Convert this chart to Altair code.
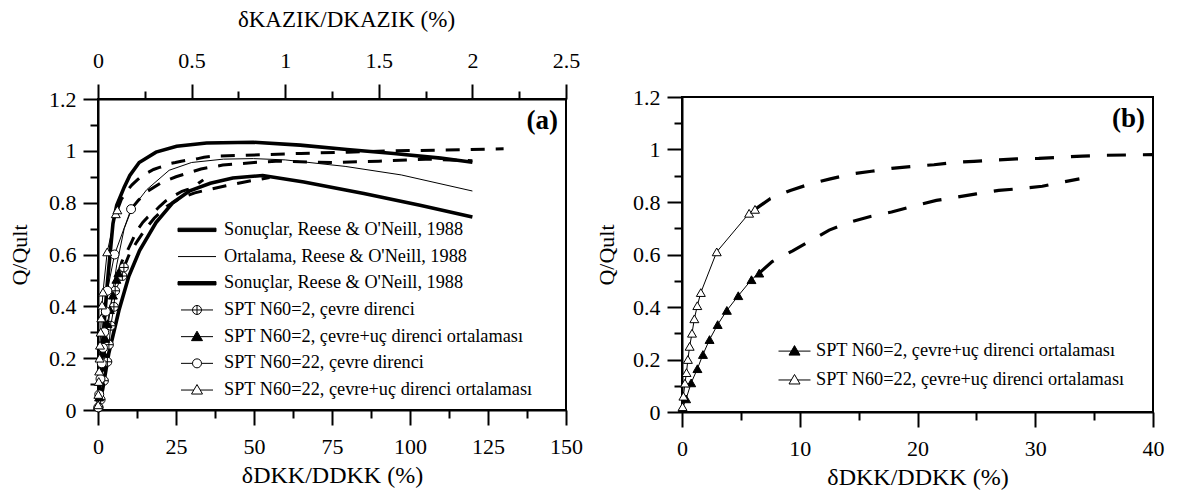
import altair as alt
import pandas as pd

FONT = "Liberation Serif, Times New Roman, serif"

# ---------------- legend texts / series names ----------------
R_UPPER = "Sonuçlar, Reese & O'Neill, 1988"
R_MEAN = "Ortalama, Reese & O'Neill, 1988"
R_LOWER = "Sonuçlar, Reese & O'Neill, 1988 "   # same text, second legend entry
N2_SIDE = "SPT N60=2, çevre direnci"
N2_AVG = "SPT N60=2, çevre+uç direnci ortalaması"
N22_SIDE = "SPT N60=22, çevre direnci"
N22_AVG = "SPT N60=22, çevre+uç direnci ortalaması"

# ---------------- Reese & O'Neill (1988): x = δKAZIK/DKAZIK (%) ----------------
reese_upper_x = [0, 0.02, 0.05, 0.08, 0.10, 0.14, 0.17, 0.22, 0.31, 0.42, 0.58, 0.83, 1.08, 1.33, 1.58, 1.83, 2.0]
reese_upper_y = [0, 0.22, 0.49, 0.72, 0.79, 0.86, 0.905, 0.955, 0.995, 1.018, 1.03, 1.033, 1.022, 1.005, 0.99, 0.972, 0.956]
reese_mean_x = [0, 0.033, 0.067, 0.10, 0.14, 0.18, 0.26, 0.38, 0.50, 0.67, 0.83, 1.0, 1.32, 1.62, 2.0]
reese_mean_y = [0, 0.2, 0.4, 0.56, 0.70, 0.775, 0.85, 0.925, 0.955, 0.968, 0.97, 0.965, 0.94, 0.907, 0.845]
reese_lower_x = [0, 0.025, 0.058, 0.112, 0.165, 0.222, 0.31, 0.40, 0.49, 0.60, 0.72, 0.88, 1.10, 1.42, 1.72, 2.0]
reese_lower_y = [0, 0.08, 0.22, 0.385, 0.517, 0.615, 0.723, 0.80, 0.846, 0.875, 0.895, 0.905, 0.88, 0.835, 0.79, 0.745]

# ---------------- measured series: x = δDKK/DDKK (%) ----------------
n2_side_x = [0.2, 0.85, 1.9, 3.0, 3.5, 4.1, 5.1, 5.5, 7.8, 8.3]
n2_side_y = [0.01, 0.04, 0.113, 0.186, 0.252, 0.325, 0.398, 0.46, 0.517, 0.55]
n2_avg_x = [0.06, 0.35, 0.78, 1.31, 1.78, 2.34, 3.03, 3.81, 4.78, 5.9, 6.56]
n2_avg_y = [0.016, 0.05, 0.111, 0.165, 0.219, 0.276, 0.333, 0.387, 0.443, 0.504, 0.529]
n22_side_x = [0.1, 0.4, 0.8, 1.2, 1.6, 2.0, 2.5, 3.0, 5.3, 10.6]
n22_side_y = [0.01, 0.06, 0.12, 0.18, 0.24, 0.30, 0.38, 0.46, 0.60, 0.775]
n22_avg_x = [0.05, 0.12, 0.25, 0.38, 0.5, 0.65, 0.85, 1.05, 1.3, 1.6, 2.95, 5.7, 6.2]
n22_avg_y = [0.02, 0.06, 0.11, 0.15, 0.20, 0.25, 0.30, 0.355, 0.405, 0.455, 0.61, 0.757, 0.772]

# dashed continuations
n2_side_ext_x = [8.3, 10, 12.5, 15, 18, 22, 26, 31, 36, 41, 47, 55]
n2_side_ext_y = [0.55, 0.60, 0.65, 0.695, 0.74, 0.785, 0.815, 0.838, 0.852, 0.865, 0.88, 0.897]
n2_avg_ext_x = [6.56, 7.66, 9.4, 10.9, 12.5, 14.4, 16.0, 17.8, 19.7, 21.6, 23.4, 25.0, 26.9, 29.0, 30.6, 32.2, 33.75]
n2_avg_ext_y = [0.529, 0.573, 0.614, 0.652, 0.693, 0.725, 0.745, 0.762, 0.785, 0.806, 0.819, 0.831, 0.844, 0.852, 0.86, 0.875, 0.888]
n22_side_ext_x = [10.6, 13, 16, 20, 25, 33, 40, 50, 57, 75, 90, 105, 120]
n22_side_ext_y = [0.775, 0.81, 0.845, 0.875, 0.90, 0.93, 0.945, 0.955, 0.96, 0.955, 0.96, 0.968, 0.962]
n22_avg_ext_x = [6.2, 7.5, 9.2, 10.9, 12.6, 14.4, 16.1, 17.8, 19.7, 21.4, 23.1, 24.8, 26.7, 28.4, 30.3,
                 32.0, 34.0, 36.0, 39.0, 45, 55, 65, 80, 95, 110, 130]
n22_avg_ext_y = [0.772, 0.813, 0.844, 0.869, 0.888, 0.907, 0.917, 0.928, 0.936, 0.942, 0.951, 0.955, 0.96,
                 0.964, 0.966, 0.97, 0.975, 0.978, 0.98, 0.982, 0.986, 0.99, 0.995, 1.0, 1.003, 1.008]

# axis tick values
x_a_vals = [0, 12.5, 25, 37.5, 50, 62.5, 75, 87.5, 100, 112.5, 125, 137.5, 150]
top_vals = [0, 0.25, 0.5, 0.75, 1.0, 1.25, 1.5, 1.75, 2.0, 2.25, 2.5]
x_b_vals = [0, 5, 10, 15, 20, 25, 30, 35, 40]
y_vals = [0, 0.1, 0.2, 0.3, 0.4, 0.5, 0.6, 0.7, 0.8, 0.9, 1.0, 1.1, 1.2]

W_A, W_B, H_A, H_B = 468, 471, 311, 315


def mk(xs, ys, name, xcol="x"):
    return pd.DataFrame({xcol: xs, "y": ys, "series": name, "order": list(range(len(xs)))})


reese_df = pd.concat([mk(reese_upper_x, reese_upper_y, R_UPPER, "xk"),
                      mk(reese_mean_x, reese_mean_y, R_MEAN, "xk"),
                      mk(reese_lower_x, reese_lower_y, R_LOWER, "xk")])
meas_a = pd.concat([mk(n2_side_x, n2_side_y, N2_SIDE), mk(n2_avg_x, n2_avg_y, N2_AVG),
                    mk(n22_side_x, n22_side_y, N22_SIDE), mk(n22_avg_x, n22_avg_y, N22_AVG)])
ext_a = pd.concat([mk(n2_side_ext_x, n2_side_ext_y, N2_SIDE), mk(n2_avg_ext_x, n2_avg_ext_y, N2_AVG),
                   mk(n22_side_ext_x, n22_side_ext_y, N22_SIDE), mk(n22_avg_ext_x, n22_avg_ext_y, N22_AVG)])
meas_b = pd.concat([mk(n2_avg_x, n2_avg_y, N2_AVG), mk(n22_avg_x, n22_avg_y, N22_AVG)])
ext_b = pd.concat([mk(n2_avg_ext_x, n2_avg_ext_y, N2_AVG), mk(n22_avg_ext_x, n22_avg_ext_y, N22_AVG)])


def axis(values, test, title, **kw):
    base = dict(values=values, format=".6~g", labelExpr=f"({test}) ? datum.label : ''",
                tickSize={"condition": {"test": test, "value": 15}, "value": 8},
                title=title, domainColor="black", domainWidth=2, tickColor="black", tickWidth=2,
                labelColor="black", labelFont=FONT, labelFontSize=22, labelFlush=False,
                labelOverlap=False, titleFont=FONT, titleFontSize=24, titleFontWeight="normal",
                titleColor="black", grid=False)
    base.update(kw)
    return alt.Axis(**base)


Y_TEST = "round(datum.value*10) % 2 == 0"
y_axis_a = axis(y_vals, Y_TEST, "Q/Qult", labelPadding=7, titlePadding=17, titleFontSize=22)
y_axis_b = axis(y_vals, Y_TEST, "Q/Qult", labelPadding=7, titlePadding=14, titleFontSize=22)
x_axis_a = axis(x_a_vals, "datum.value % 25 == 0", "δDKK/DDKK (%)", labelPadding=11, titlePadding=6)
top_axis = axis(top_vals, "round(datum.value*4) % 2 == 0", "δKAZIK/DKAZIK (%)", orient="top",
                labelPadding=12, titlePadding=18, titleFontSize=23, titleX=W_A / 2 + 14)
x_axis_b = axis(x_b_vals, "datum.value % 10 == 0", "δDKK/DDKK (%)", labelPadding=11, titlePadding=6)

y_scale = alt.Scale(domain=[0, 1.2], nice=False, zero=False)
xa_scale = alt.Scale(domain=[0, 150], nice=False, zero=False)
xb_scale = alt.Scale(domain=[0, 40], nice=False, zero=False)
top_scale = alt.Scale(domain=[0, 2.5], nice=False, zero=False)

# legend symbols: line + marker drawn as custom symbol paths
THICK = "M-1.9,-0.17H1.9V0.17H-1.9Z"
THIN = "M-1.9,0H1.9"
L_OPLUS = "M-1.6,0H1.6M-0.45,0A0.45,0.45,0,1,0,0.45,0A0.45,0.45,0,1,0,-0.45,0M0,-0.45V0.45"
L_TRI = "M-1.6,0H1.6M0,-0.55L0.55,0.4L-0.55,0.4Z"
L_CIRC = "M-1.6,0H-0.45M0.45,0H1.6M-0.45,0A0.45,0.45,0,1,0,0.45,0A0.45,0.45,0,1,0,-0.45,0"
L_OTRI = "M-1.6,0H-0.32M0.32,0H1.6M0,-0.55L0.55,0.4L-0.55,0.4Z"
# plot markers
OPLUS = "M-1,0A1,1,0,1,0,1,0A1,1,0,1,0,-1,0M-1,0H1M0,-1V1"

dom_a = [R_UPPER, R_MEAN, R_LOWER, N2_SIDE, N2_AVG, N22_SIDE, N22_AVG]
fill_a = ["black", "white", "black", "white", "black", "white", "white"]
lpath_a = [THICK, THIN, THICK, L_OPLUS, L_TRI, L_CIRC, L_OTRI]
dom_b = [N2_AVG, N22_AVG]
fill_b = ["black", "white"]
lpath_b = [L_TRI, L_OTRI]

marker_style = {N2_SIDE: (OPLUS, "white"), N2_AVG: ("triangle-up", "black"),
                N22_SIDE: ("circle", "white"), N22_AVG: ("triangle-up", "white")}


def legend(lx, first_y, last_y, n, off, h):
    c1 = (1.2 - first_y) / 1.2 * h
    step = (first_y - last_y) / 1.2 * h / max(n - 1, 1)
    return alt.Legend(title=None, orient="none", legendX=lx, legendY=c1 - 10.5, padding=0,
                      labelFont=FONT, labelFontSize=18.3, labelColor="black", labelLimit=1000,
                      labelOffset=off, rowPadding=step - 19, symbolSize=400, symbolStrokeWidth=1,
                      symbolStrokeColor="black", symbolOpacity=1)


def panel(meas, ext, xenc, yenc, dom, fills, paths, leg, dash, dash_w, label, width):
    ext_l = alt.Chart(ext).mark_line(color="black", strokeWidth=dash_w, strokeDash=dash, clip=True).encode(
        x=xenc, y=yenc, detail="series:N", order="order:Q")
    lines_l = alt.Chart(meas).mark_line(color="black", strokeWidth=1).encode(
        x=xenc, y=yenc, detail="series:N", order="order:Q")
    layers = [ext_l, lines_l]
    for name in dom:
        if name not in marker_style:
            continue
        shp, fc = marker_style[name]
        layers.append(alt.Chart(meas).transform_filter(alt.datum.series == name).mark_point(
            shape=shp, filled=True, fill=fc, stroke="black", strokeWidth=1, size=80, opacity=1
        ).encode(x=xenc, y=yenc))
    # legend source (same points, invisible in the plot; only its legend is shown)
    layers.append(alt.Chart(meas).mark_point(filled=True, opacity=0).encode(
        x=xenc, y=yenc,
        shape=alt.Shape("series:N", scale=alt.Scale(domain=dom, range=paths), legend=leg),
        fill=alt.Fill("series:N", scale=alt.Scale(domain=dom, range=fills), legend=leg),
        stroke=alt.Stroke("series:N", scale=alt.Scale(domain=dom, range=["black"] * len(dom)), legend=leg)))
    layers.append(alt.Chart(pd.DataFrame({"t": [label]})).mark_text(
        align="right", baseline="middle", font=FONT, fontSize=27, fontWeight="bold", color="black").encode(
        text="t:N", x=alt.value(width - 8), y=alt.value(22)))
    return alt.layer(*layers)


# ---------------- panel (a) ----------------
reese = alt.Chart(reese_df).mark_line(color="black", strokeCap="butt").encode(
    x=alt.X("xk:Q", scale=top_scale, axis=top_axis),
    y=alt.Y("y:Q", scale=y_scale, axis=y_axis_a),
    order="order:Q",
    strokeWidth=alt.StrokeWidth("series:N", scale=alt.Scale(type="ordinal", domain=[R_UPPER, R_MEAN, R_LOWER],
                                                            range=[3.6, 1, 3.6]), legend=None),
)
inner_a = panel(meas_a, ext_a, alt.X("x:Q", scale=xa_scale, axis=x_axis_a), alt.Y("y:Q", scale=y_scale, axis=y_axis_a),
                dom_a, fill_a, lpath_a, legend(88.5, 0.695, 0.077, 7, 16.5, H_A), [14, 11], 3, "(a)", W_A)
panel_a = alt.layer(reese, inner_a).resolve_scale(x="independent").properties(width=W_A, height=H_A)

# ---------------- panel (b) ----------------
panel_b = panel(meas_b, ext_b, alt.X("x:Q", scale=xb_scale, axis=x_axis_b), alt.Y("y:Q", scale=y_scale, axis=y_axis_b),
                dom_b, fill_b, lpath_b, legend(102, 0.232, 0.122, 2, 11, H_B), [19, 17], 3.2, "(b)", W_B
                ).properties(width=W_B, height=H_B)

chart = alt.hconcat(panel_a, panel_b, spacing=116, bounds="flush", center=True).resolve_scale(
    x="independent", y="independent", shape="independent", fill="independent", stroke="independent"
).resolve_legend(shape="independent", fill="independent", stroke="independent").properties(
    padding={"left": 7, "top": 7, "right": 5, "bottom": 5}
).configure(font=FONT).configure_view(stroke="black", strokeWidth=2)

chart.save("out.html", embed_options={"renderer": "svg", "actions": False})
